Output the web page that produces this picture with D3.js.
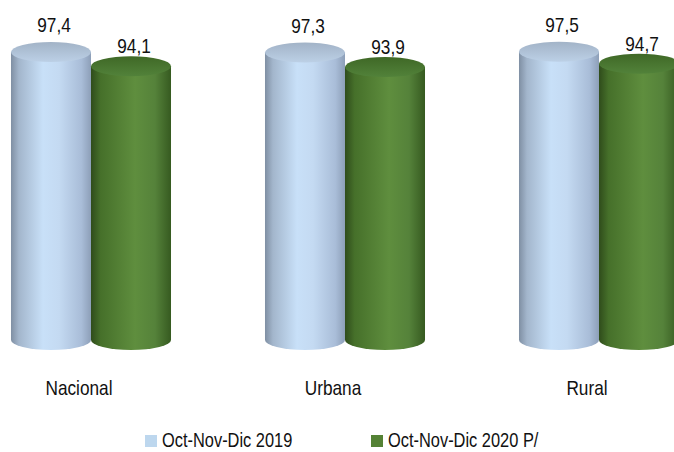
<!DOCTYPE html>
<html>
<head>
<meta charset="utf-8">
<script src="https://cdn.jsdelivr.net/npm/d3@7"></script>
<style>
  body { margin: 0; background: #fff; }
  text { font-family: "Liberation Sans Narrow", "Arial Narrow", "Liberation Sans", sans-serif; fill: #111; }
</style>
</head>
<body>
<div id="chart"></div>
<script>
// datos: tasa por área, dos trimestres
const categorias = ["Nacional", "Urbana", "Rural"];
const series = ["Oct-Nov-Dic 2019", "Oct-Nov-Dic 2020 P/"];
const valores2019 = [97.4, 97.3, 97.5];
const valores2020 = [94.1, 93.9, 94.7];

const width = 674, height = 452;

const svg = d3.select("#chart")
  .append("svg")
  .attr("width", width)
  .attr("height", height);

const defs = svg.append("defs");

// degradados de los cilindros
function gradiente(id, stops) {
  const g = defs.append("linearGradient").attr("id", id)
    .attr("x1", "0%").attr("x2", "100%").attr("y1", "0%").attr("y2", "0%");
  stops.forEach((s) => g.append("stop").attr("offset", s[0]).attr("stop-color", s[1]));
}
gradiente("cuerpoAzul", [["0%", "#7f8fa3"], ["10%", "#a3b6cc"], ["40%", "#c8e0f8"], ["60%", "#c4daf2"], ["88%", "#a9bdd8"], ["100%", "#8d9fb8"]]);
gradiente("cuerpoVerde", [["0%", "#2f4c1b"], ["12%", "#46702a"], ["55%", "#5f8e3e"], ["80%", "#55823a"], ["100%", "#365a20"]]);

const topeAzul = defs.append("linearGradient").attr("id", "topeAzul")
  .attr("x1", "0%").attr("x2", "0%").attr("y1", "0%").attr("y2", "100%");
topeAzul.append("stop").attr("offset", "0%").attr("stop-color", "#a2b3c7");
topeAzul.append("stop").attr("offset", "100%").attr("stop-color", "#bcd0e6");
const topeVerde = defs.append("linearGradient").attr("id", "topeVerde")
  .attr("x1", "0%").attr("x2", "0%").attr("y1", "0%").attr("y2", "100%");
topeVerde.append("stop").attr("offset", "0%").attr("stop-color", "#3f6826");
topeVerde.append("stop").attr("offset", "100%").attr("stop-color", "#52823a");

const colores = {
  cuerpo: ["url(#cuerpoAzul)", "url(#cuerpoVerde)"],
  tope: ["url(#topeAzul)", "url(#topeVerde)"],
  leyenda: ["#bdd7ee", "#548235"]
};

const x = d3.scaleBand()
  .domain(categorias)
  .range([-36, 726])
  .paddingInner(0.37)
  .paddingOuter(0.185);

const xs = d3.scaleBand()
  .domain(series)
  .range([0, x.bandwidth()])
  .padding(0);

const y = d3.scaleLinear().domain([30, 100]).range([340, 41]);

const datos = [];
categorias.forEach((c, i) => {
  datos.push({ cat: c, serie: series[0], s: 0, value: valores2019[i] });
  datos.push({ cat: c, serie: series[1], s: 1, value: valores2020[i] });
});

const ry = 10;
const base = y(30);
const sepEtiqueta = [20, 13];

function cilindro(d) {
  const x0 = x(d.cat) + xs(d.serie);
  const w = xs.bandwidth();
  const rx = w / 2;
  const yt = y(d.value);
  return "M" + x0 + "," + yt +
    "L" + x0 + "," + base +
    "A" + rx + "," + ry + " 0 0 0 " + (x0 + w) + "," + base +
    "L" + (x0 + w) + "," + yt + "Z";
}

// letra estrecha: comprime el texto si no hay fuente narrow
function estrecha(sel) {
  sel.each(function () {
    const l = this.getComputedTextLength();
    d3.select(this).attr("textLength", l * 0.82).attr("lengthAdjust", "spacingAndGlyphs");
  });
}

const barras = svg.append("g")
  .selectAll("g")
  .data(datos)
  .join("g");

barras.append("path")
  .attr("d", cilindro)
  .attr("fill", (d) => colores.cuerpo[d.s]);

barras.append("ellipse")
  .attr("cx", (d) => x(d.cat) + xs(d.serie) + xs.bandwidth() / 2)
  .attr("cy", (d) => y(d.value))
  .attr("rx", xs.bandwidth() / 2)
  .attr("ry", ry)
  .attr("fill", (d) => colores.tope[d.s]);

// etiquetas de valores
barras.append("text")
  .attr("x", (d) => x(d.cat) + xs(d.serie) + xs.bandwidth() / 2 + 3)
  .attr("y", (d) => y(d.value) - sepEtiqueta[d.s])
  .attr("text-anchor", "middle")
  .style("font-size", "21px")
  .text((d) => d3.format(".1f")(d.value).replace(".", ","))
  .call(estrecha);

// categorías
svg.append("g")
  .selectAll("text")
  .data(categorias)
  .join("text")
  .attr("x", (d) => x(d) + x.bandwidth() / 2 - 12)
  .attr("y", 395)
  .attr("text-anchor", "middle")
  .style("font-size", "21px")
  .text((d) => d)
  .call(estrecha);

// leyenda
const posLeyenda = [145, 371];
const leyenda = svg.append("g")
  .selectAll("g")
  .data(series)
  .join("g")
  .attr("transform", (d, i) => "translate(" + posLeyenda[i] + ",435)");

leyenda.append("rect")
  .attr("width", 12)
  .attr("height", 12)
  .attr("fill", (d, i) => colores.leyenda[i]);

leyenda.append("text")
  .attr("x", 17)
  .attr("y", 12)
  .style("font-size", "20px")
  .text((d) => d)
  .call(estrecha);
</script>
</body>
</html>
